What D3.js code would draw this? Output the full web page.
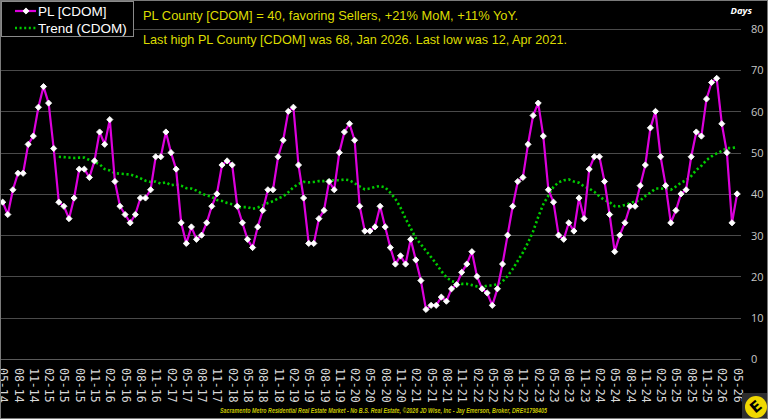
<!DOCTYPE html>
<html><head><meta charset="utf-8">
<script src="https://cdn.jsdelivr.net/npm/d3@7"></script>
<style>html,body{margin:0;padding:0;background:#000;}svg{display:block;}</style>
</head><body>
<svg id="c" width="768" height="419"></svg>
<script>
const startYear = 2014, startMonth = 5, monthCount = 145;
const plValues = [38,35,41,45,45,52,54,61,66,62,51,38,
37,34,39,46,46,44,48,55,52,58,43,37,
35,33,35,39,39,41,49,49,55,50,46,33,
28,32,29,30,33,37,40,47,48,47,37,33,
29,27,32,36,41,41,49,53,60,61,47,39,
28,28,34,36,43,41,50,55,57,53,37,31,
31,32,37,32,27,23,25,23,29,24,19,12,
13,13,15,14,17,18,21,23,26,20,17,16,
13,17,23,30,37,43,44,52,59,62,54,41,
38,30,29,33,31,39,34,46,49,49,43,35,
26,30,33,37,37,42,47,56,60,49,42,33,
36,40,41,49,55,54,63,67,68,57,50,33,40];
const trendValues = [null,null,null,null,null,null,null,null,null,null,null,49.0,
48.9,48.8,48.7,48.8,48.8,48.2,47.7,47.2,46.0,45.7,45.0,44.9,
44.8,44.7,44.3,43.8,43.2,42.9,43.0,42.5,42.8,42.1,42.3,42.0,
41.4,41.3,40.8,40.1,39.6,39.3,38.5,38.3,37.8,37.5,36.8,36.8,
36.8,36.4,36.7,37.2,37.8,38.2,38.9,39.4,40.4,41.6,42.4,42.9,
42.8,42.9,43.1,43.1,43.3,43.3,43.3,43.5,43.3,42.6,41.8,41.1,
41.3,41.7,41.9,41.6,40.3,38.8,36.7,34.0,31.7,29.3,27.8,26.2,
24.7,23.1,21.3,19.8,18.9,18.5,18.2,18.2,17.9,17.6,17.4,17.8,
17.8,18.1,18.8,20.1,21.8,23.8,25.8,28.2,30.9,34.4,37.5,39.6,
41.7,42.8,43.3,43.5,43.0,42.7,41.8,41.3,40.5,39.4,38.5,38.0,
37.0,37.0,37.3,37.7,38.2,38.4,39.5,40.3,41.3,41.3,41.2,41.0,
41.8,42.7,43.3,44.3,45.8,46.8,48.2,49.1,49.8,50.4,51.1,51.1,51.4];
const tickLabels = ["05-14","08-14","11-14","02-15","05-15","08-15","11-15","02-16","05-16","08-16","11-16","02-17","05-17","08-17","11-17","02-18","05-18","08-18","11-18","02-19","05-19","08-19","11-19","02-20","05-20","08-20","11-20","02-21","05-21","08-21","11-21","02-22","05-22","08-22","11-22","02-23","05-23","08-23","11-23","02-24","05-24","08-24","11-24","02-25","05-25","08-25","11-25","02-26","05-26"];
const yTicks = [0,10,20,30,40,50,60,70,80];
const seriesNames = ["PL [CDOM]", "Trend (CDOM)"];
const headline1 = "PL County [CDOM] = 40, favoring Sellers, +21% MoM, +11% YoY.";
const headline2 = "Last high PL County [CDOM] was 68, Jan 2026. Last low was 12, Apr 2021.";
const footer = "Sacramento Metro Residential Real Estate Market - No B.S. Real Estate, \u00a92026 JD Wise, Inc - Jay Emerson, Broker, DRE#1798405";

const months = d3.range(monthCount).map(i => {
  const m = (startMonth - 1 + i) % 12 + 1;
  const y = startYear + Math.floor((startMonth - 1 + i) / 12);
  return String(m).padStart(2, "0") + "-" + String(y % 100).padStart(2, "0");
});
const data = months.map((m, i) => ({m, v: plValues[i], t: trendValues[i]}));

const svg = d3.select("#c");
const x = d3.scalePoint().domain(months).range([2.7, 737.1]);
const y = d3.scaleLinear().domain([0, 80]).range([359, 28.8]);

// grid
svg.append("g").selectAll("line").data(yTicks).join("line")
  .attr("x1", 0).attr("x2", 741)
  .attr("y1", d => Math.round(y(d)) + 0.5).attr("y2", d => Math.round(y(d)) + 0.5)
  .attr("stroke", d => d === 0 ? "#5a5a5a" : "#4a4a4a").attr("stroke-width", 1.2);

// right axis
const yAxis = d3.axisRight(y).tickValues(yTicks).tickSize(0).tickPadding(0);
const ya = svg.append("g").attr("transform", "translate(751,0)").call(yAxis);
ya.select(".domain").remove();
ya.selectAll("text").attr("fill", "#c8c8c8").attr("font-family", "Open Sans, sans-serif").attr("font-size", 11).attr("dy", "0.35em");

svg.append("text").attr("x", 752).attr("y", 14).attr("text-anchor", "end")
  .attr("fill", "#ffffff").attr("font-family", "Open Sans, sans-serif").attr("font-size", 9.5)
  .attr("font-style", "italic").attr("font-weight", "bold").text("Days");

// x axis labels
const xAxis = d3.axisBottom(x).tickValues(tickLabels).tickSize(0).tickPadding(0);
const xa = svg.append("g").attr("transform", "translate(0,368)").call(xAxis);
xa.select(".domain").remove();
xa.selectAll("text")
  .attr("fill", "#d8d8d8").attr("font-family", "DejaVu Sans Mono, monospace").attr("font-size", 11.5)
  .attr("text-anchor", "start").attr("dy", null)
  .attr("dominant-baseline", "central")
  .attr("transform", "rotate(90)").attr("x", 0).attr("y", 0);

// lines
const trendLine = d3.line().defined(d => d.t != null).x(d => x(d.m)).y(d => y(d.t));
svg.append("path").datum(data).attr("d", trendLine)
  .attr("fill", "none").attr("stroke", "#00cc00").attr("stroke-width", 2.6)
  .attr("stroke-dasharray", "2.2,2.6");

const plLine = d3.line().x(d => x(d.m)).y(d => y(d.v));
svg.append("path").datum(data).attr("d", plLine)
  .attr("fill", "none").attr("stroke", "#dc00dc").attr("stroke-width", 2.2).attr("stroke-linejoin", "round");

const sym = d3.symbol().type(d3.symbolSquare).size(19);
svg.append("g").selectAll("path").data(data).join("path")
  .attr("d", sym).attr("transform", d => `translate(${x(d.m)},${y(d.v)}) rotate(45)`)
  .attr("fill", "#ffffff").attr("stroke", "#ffffff").attr("stroke-width", 0.8).attr("stroke-linejoin", "round");

// legend
const lg = svg.append("g");
lg.append("rect").attr("x", 1.5).attr("y", 1.5).attr("width", 132).attr("height", 35)
  .attr("fill", "#000").attr("stroke", "#8a8a8a").attr("stroke-width", 1);
lg.append("line").attr("x1", 15).attr("x2", 36).attr("y1", 11).attr("y2", 11)
  .attr("stroke", "#dc00dc").attr("stroke-width", 2.2);
lg.append("path").attr("d", sym).attr("transform", "translate(26,11) rotate(45)").attr("fill", "#fff")
  .attr("stroke", "#fff").attr("stroke-width", 0.8);
lg.append("line").attr("x1", 15).attr("x2", 37).attr("y1", 28).attr("y2", 28)
  .attr("stroke", "#00cc00").attr("stroke-width", 2.4).attr("stroke-dasharray", "2,2.6");
lg.selectAll("text.lt").data(seriesNames).join("text").attr("class", "lt")
  .attr("x", 38).attr("y", (d, i) => 16 + i * 17)
  .attr("fill", "#ffffff").attr("font-family", "Liberation Sans, Arial, sans-serif").attr("font-size", 13.5)
  .text(d => d);

// headlines
svg.append("text").attr("x", 143).attr("y", 20).attr("fill", "#dcdc00")
  .attr("font-family", "Liberation Sans, Arial, sans-serif").attr("font-size", 13)
  .attr("textLength", 375).attr("lengthAdjust", "spacingAndGlyphs").text(headline1);
svg.append("text").attr("x", 143).attr("y", 44).attr("fill", "#dcdc00")
  .attr("font-family", "Liberation Sans, Arial, sans-serif").attr("font-size", 13)
  .attr("textLength", 424).attr("lengthAdjust", "spacingAndGlyphs").text(headline2);

// footer
svg.append("text").attr("x", 220).attr("y", 413).attr("fill", "#c8c800")
  .attr("font-family", "Liberation Sans, Arial, sans-serif").attr("font-size", 6.5)
  .attr("font-style", "italic").attr("font-weight", "bold")
  .attr("textLength", 327).attr("lengthAdjust", "spacingAndGlyphs").text(footer);

// logo
svg.append("rect").attr("x", 742).attr("y", 393).attr("width", 26).attr("height", 26).attr("fill", "#2e2e2e");
svg.append("circle").attr("cx", 756).attr("cy", 407).attr("r", 11).attr("fill", "#f0d800");
svg.append("text").attr("x", 756).attr("y", 407).attr("text-anchor", "middle").attr("dominant-baseline", "central")
  .attr("transform", "rotate(-40,756,407)").attr("fill", "#000").attr("font-family", "DejaVu Sans, sans-serif")
  .attr("font-weight", "bold").attr("font-size", 15).text("E");

// border
svg.append("rect").attr("x", 0.5).attr("y", 0.5).attr("width", 767).attr("height", 418)
  .attr("fill", "none").attr("stroke", "#7a7a7a").attr("stroke-width", 1);
</script>
</body></html>
